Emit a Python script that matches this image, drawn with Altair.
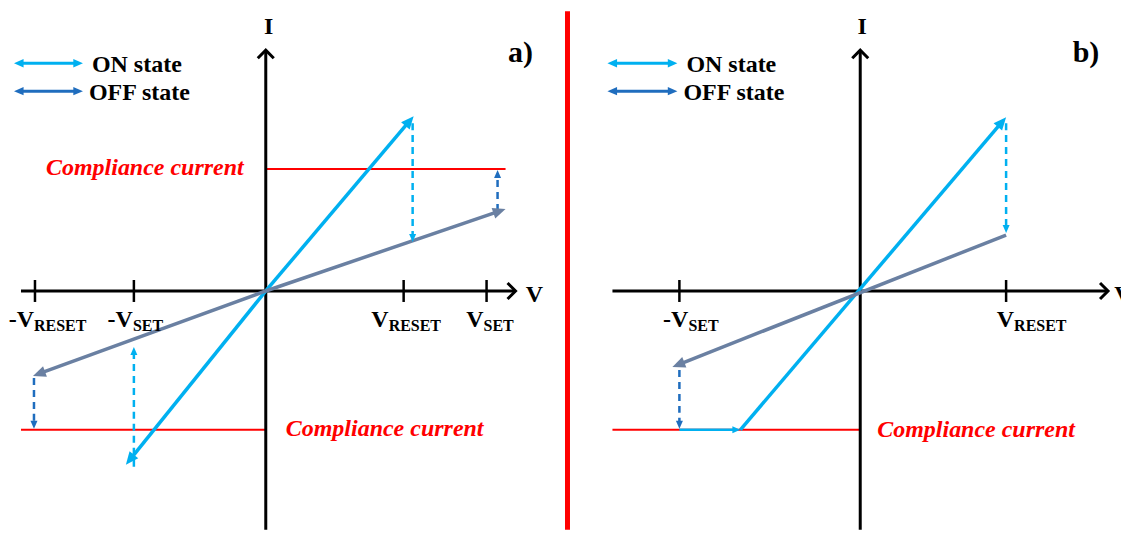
import math
import altair as alt
import pandas as pd

ON_BLUE = "#00B0F0"
OFF_GREY = "#6A80A2"
OFF_BLUE = "#1F6DBE"
RED = "#FF0000"
BLACK = "#000000"
FONT = "Liberation Serif"

PX = 100.0                      # pixels per unit (both axes)
I_DOMAIN = [-2.39, 2.80]

# ---------------- panel a (V, I in arbitrary units) ----------------
a_V_DOMAIN = [-2.57, 2.99]
a_tick_V = [-2.31, -1.32, 1.38, 2.21]
a_tick_split = [-2.32, -1.33, 1.23, 2.18]
a_tick_main = ["-V", "-V", "V", "V"]
a_tick_sub = ["RESET", "SET", "RESET", "SET"]
a_cc_V0 = [0.0, -2.45]
a_cc_V1 = [2.40, 0.0]
a_cc_I = [1.22, -1.39]
a_cc_text_V = [-2.20, 0.20]
a_cc_text_I = [1.16, -1.45]
a_arrow_kind = ["axis", "axis", "on", "on", "off", "off",
                "on_dash", "on_dash", "off_dash", "off_dash", "legend_on", "legend_off"]
a_arrow_V0 = [-2.45, 0.00, 0.00, 0.00, 0.00, 0.00, 1.47, -1.32, 2.32, -2.32, -2.52, -2.52]
a_arrow_I0 = [0.00, -2.39, 0.00, 0.00, 0.00, 0.00, 1.68, -1.76, 0.80, -0.87, 2.28, 2.00]
a_arrow_V1 = [2.50, 0.00, 1.48, -1.40, 2.40, -2.33, 1.47, -1.32, 2.32, -2.32, -1.83, -1.83]
a_arrow_I1 = [0.00, 2.41, 1.75, -1.74, 0.82, -0.85, 0.49, -0.56, 1.21, -1.38, 2.28, 2.00]
a_label_pos = {"I": (0.03, 2.57), "V": (2.69, -0.11), "tag": (2.55, 2.29)}
a_tag = "a)"

# ---------------- panel b ----------------
b_V_DOMAIN = [-2.96, 2.61]
b_tick_V = [-1.81, 1.46]
b_tick_split = [-1.72, 1.54]
b_tick_main = ["-V", "V"]
b_tick_sub = ["SET", "RESET"]
b_cc_V0 = [-2.48]
b_cc_V1 = [0.0]
b_cc_I = [-1.39]
b_cc_text_V = [0.17]
b_cc_text_I = [-1.46]
b_arrow_kind = ["axis", "axis", "on", "on_flat", "off", "on_dash", "off_dash",
                "legend_on", "legend_off"]
b_arrow_V0 = [-2.48, 0.00, -1.20, -1.81, 1.46, 1.46, -1.81, -2.53, -2.53]
b_arrow_I0 = [0.00, -2.39, -1.39, -1.39, 0.56, 1.68, -0.79, 2.28, 2.00]
b_arrow_V1 = [2.48, 0.00, 1.46, -1.20, -1.88, 1.46, -1.81, -1.83, -1.83]
b_arrow_I1 = [0.00, 2.41, 1.74, -1.39, -0.76, 0.58, -1.38, 2.28, 2.00]
b_label_pos = {"I": (0.02, 2.57), "V": (2.63, -0.11), "tag": (2.26, 2.29)}
b_tag = "b)"
b_separator_V = -2.93

legend_text = ["ON state", "OFF state"]
legend_text_V = [-1.74, -1.77]
legend_text_I = [2.19, 1.91]

# style per arrow kind: color, stroke width, dashed, head size, head shape, both ends
STYLE = {
    "axis": (BLACK, 3.0, False, 256, "chevron", False),
    "on": (ON_BLUE, 3.5, False, 256, "tri", False),
    "off": (OFF_GREY, 3.5, False, 256, "tri", False),
    "on_flat": (ON_BLUE, 2.5, False, 100, "tri", False),
    "on_dash": (ON_BLUE, 2.5, True, 100, "tri", False),
    "off_dash": (OFF_BLUE, 2.5, True, 100, "tri", False),
    "legend_on": (ON_BLUE, 3.0, False, 144, "tri", True),
    "legend_off": (OFF_BLUE, 3.0, False, 144, "tri", True),
}

TRI = "M0,-1L0.7,0.6L-0.7,0.6Z"
CHEVRON = "M-1,0L0,-1L1,0"


def build_arrows(kinds, V0, I0, V1, I1):
    segs, heads = [], []
    for k, v0, i0, v1, i1 in zip(kinds, V0, I0, V1, I1):
        color, sw, dash, size, shape, both = STYLE[k]
        r = math.sqrt(size) / 2.0
        L = math.hypot(v1 - v0, i1 - i0)
        ux, uy = (v1 - v0) / L, (i1 - i0) / L
        back = (1.5 if shape == "chevron" else r * 0.9) / PX
        ends = [(v1, i1, ux, uy)]
        if both:
            ends.append((v0, i0, -ux, -uy))
        sv0, si0 = v0, i0
        ev1, ei1 = v1 - ux * back, i1 - uy * back
        if both:
            sv0, si0 = v0 + ux * back, i0 + uy * back
        segs.append(dict(x=sv0, y=si0, x2=ev1, y2=ei1, color=color, sw=sw, dash=dash))
        for tv, ti, dx, dy in ends:
            heads.append(dict(
                x=tv - dx * r / PX, y=ti - dy * r / PX,
                angle=math.degrees(math.atan2(dx, dy)) % 360,
                color=color, size=size, shape=shape))
    return pd.DataFrame(segs), pd.DataFrame(heads)


def panel(width, vdom, kinds, V0, I0, V1, I1, ticks, split, mains, subs,
          ccV0, ccV1, ccI, ccTV, ccTI, labels, tag, separator=None):
    xs = alt.Scale(domain=vdom, nice=False, zero=False)
    ys = alt.Scale(domain=I_DOMAIN, nice=False, zero=False)
    X = lambda f: alt.X(f, type="quantitative", scale=xs, axis=None)
    Y = lambda f: alt.Y(f, type="quantitative", scale=ys, axis=None)

    segs, heads = build_arrows(kinds, V0, I0, V1, I1)

    # plain lines: ticks, compliance lines, separator
    plain = []
    for t in ticks:
        plain.append(dict(x=t, y=-0.11, x2=t, y2=0.11, color=BLACK, sw=2.5))
    for a, b, c in zip(ccV0, ccV1, ccI):
        plain.append(dict(x=a, y=c, x2=b, y2=c, color=RED, sw=2.0))
    if separator is not None:
        plain.append(dict(x=separator, y=I_DOMAIN[1], x2=separator, y2=I_DOMAIN[0],
                          color=RED, sw=5.0))
    plain = pd.DataFrame(plain)

    def rule_layer(df, dashed=False):
        kw = dict(strokeCap="butt")
        if dashed:
            kw["strokeDash"] = [7, 5]
        return alt.Chart(df).mark_rule(**kw).encode(
            x=X("x"), y=Y("y"), x2=alt.X2("x2"), y2=alt.Y2("y2"),
            color=alt.Color("color:N", scale=None),
            strokeWidth=alt.StrokeWidth("sw:Q", scale=None))

    layers = [
        rule_layer(plain),
        rule_layer(segs[~segs["dash"]]),
        rule_layer(segs[segs["dash"]], dashed=True),
    ]

    def head_layer(df, shape, filled):
        kw = dict(shape=shape, filled=filled, opacity=1)
        if not filled:
            kw["strokeWidth"] = 3
        return alt.Chart(df).mark_point(**kw).encode(
            x=X("x"), y=Y("y"),
            angle=alt.Angle("angle:Q", scale=None),
            size=alt.Size("size:Q", scale=None),
            color=alt.Color("color:N", scale=None))

    layers.append(head_layer(heads[heads["shape"] == "tri"], TRI, True))
    layers.append(head_layer(heads[heads["shape"] == "chevron"], CHEVRON, False))

    # texts
    def text_layer(df, align, italic=False, clip=False):
        kw = dict(align=align, baseline="alphabetic", font=FONT, fontWeight="bold")
        if italic:
            kw["fontStyle"] = "italic"
        if clip:
            kw["clip"] = True
        return alt.Chart(df).mark_text(**kw).encode(
            x=X("x"), y=Y("y"), text="t:N",
            size=alt.Size("s:Q", scale=None),
            color=alt.Color("c:N", scale=None))

    right_t = pd.DataFrame(dict(x=split, y=[-0.36] * len(split), t=mains,
                                s=[24] * len(split), c=[BLACK] * len(split)))
    left_t = pd.DataFrame(dict(
        x=list(split) + legend_text_V,
        y=[-0.40] * len(split) + legend_text_I,
        t=list(subs) + legend_text,
        s=[16] * len(split) + [24, 24],
        c=[BLACK] * (len(split) + 2)))
    center_t = pd.DataFrame(dict(
        x=[labels["I"][0], labels["tag"][0]],
        y=[labels["I"][1], labels["tag"][1]],
        t=["I", tag], s=[24, 30], c=[BLACK, BLACK]))
    v_t = pd.DataFrame(dict(x=[labels["V"][0]], y=[labels["V"][1]], t=["V"],
                            s=[24], c=[BLACK]))
    cc_t = pd.DataFrame(dict(x=ccTV, y=ccTI, t=["Compliance current"] * len(ccTV),
                             s=[24] * len(ccTV), c=[RED] * len(ccTV)))

    layers += [
        text_layer(right_t, "right"),
        text_layer(left_t, "left"),
        text_layer(center_t, "center"),
        text_layer(v_t, "center", clip=True),
        text_layer(cc_t, "left", italic=True),
    ]
    return alt.layer(*layers).properties(width=width, height=519)


pa = panel(556, a_V_DOMAIN, a_arrow_kind, a_arrow_V0, a_arrow_I0, a_arrow_V1, a_arrow_I1,
           a_tick_V, a_tick_split, a_tick_main, a_tick_sub,
           a_cc_V0, a_cc_V1, a_cc_I, a_cc_text_V, a_cc_text_I, a_label_pos, a_tag)
pb = panel(557, b_V_DOMAIN, b_arrow_kind, b_arrow_V0, b_arrow_I0, b_arrow_V1, b_arrow_I1,
           b_tick_V, b_tick_split, b_tick_main, b_tick_sub,
           b_cc_V0, b_cc_V1, b_cc_I, b_cc_text_V, b_cc_text_I, b_label_pos, b_tag,
           separator=b_separator_V)

chart = alt.hconcat(pa, pb, spacing=0, bounds="flush", padding=0).configure_view(
    stroke=None)

chart.save("out.html", embed_options={"renderer": "svg", "actions": False})
